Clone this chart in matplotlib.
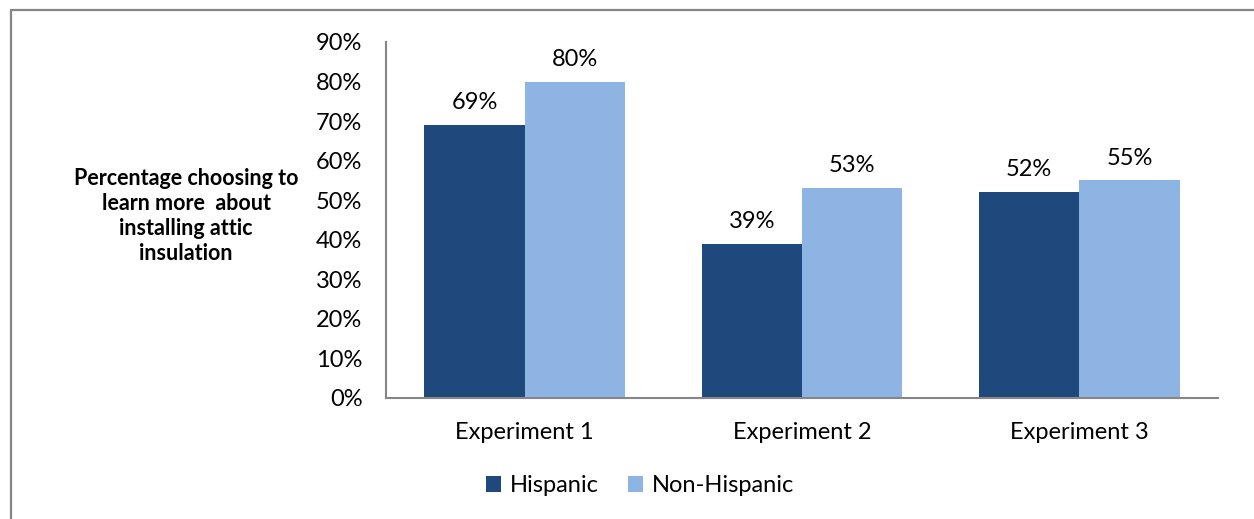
import matplotlib
matplotlib.use("Agg")
import matplotlib.pyplot as plt
from matplotlib.patches import Rectangle, Patch

categories = ["Experiment 1", "Experiment 2", "Experiment 3"]
series_names = ["Hispanic", "Non-Hispanic"]
hispanic = [69, 39, 52]
non_hispanic = [80, 53, 55]
y_ticks = [0, 10, 20, 30, 40, 50, 60, 70, 80, 90]
y_label = "Percentage choosing to\nlearn more  about\ninstalling attic\ninsulation"

colors = ["#1F497D", "#8EB4E3"]
axis_gray = "#868686"
font = ["Lato", "DejaVu Sans"]
plt.rcParams["font.family"] = font
fs = 17

W, H = 1254, 519
fig = plt.figure(figsize=(W / 100, H / 100), dpi=100)
fig.patch.set_facecolor("white")

# outer chart-area border (runs off the right and bottom edges)
fig.patches.append(Rectangle((11 / W, -0.05), 1.1, 1 - 10 / H + 0.05,
                             transform=fig.transFigure, fill=False,
                             edgecolor=axis_gray, linewidth=1.6))

ax = fig.add_axes([386 / W, 1 - 398 / H, (1218 - 386) / W, (398 - 42) / H])
bw = 0.362
x = list(range(len(categories)))
for offset, vals, color in [(-bw / 2, hispanic, colors[0]), (bw / 2, non_hispanic, colors[1])]:
    bars = ax.bar([i + offset for i in x], vals, width=bw, color=color, linewidth=0)
    for b, v in zip(bars, vals):
        ax.text(b.get_x() + b.get_width() / 2, v + 3.0, f"{v}%", ha="center",
                va="bottom", fontsize=fs, color="black")

ax.set_xlim(-0.5, len(categories) - 0.5)
ax.set_ylim(0, 90)
ax.set_yticks(y_ticks)
ax.set_yticklabels([f"{t}%" for t in y_ticks], fontsize=fs)
ax.set_xticks(x)
ax.set_xticklabels(categories, fontsize=fs)
ax.tick_params(axis="both", length=0, colors="black")
ax.tick_params(axis="y", pad=17)
ax.tick_params(axis="x", pad=17)
for s in ["top", "right"]:
    ax.spines[s].set_visible(False)
for s in ["left", "bottom"]:
    ax.spines[s].set_color(axis_gray)
    ax.spines[s].set_linewidth(1.5)

fig.text(186 / W, 1 - 216 / H, y_label, ha="center", va="center",
         fontsize=15.5, fontweight="bold", linespacing=1.25)

handles = [Patch(facecolor=c, edgecolor="none") for c in colors]
fig.legend(handles, series_names, loc="center", bbox_to_anchor=(640 / W, 1 - 486 / H),
           ncol=2, frameon=False, fontsize=fs, handlelength=0.64, handleheight=0.64,
           handletextpad=0.35, columnspacing=1.25)

fig.savefig("out.png", dpi=100)
